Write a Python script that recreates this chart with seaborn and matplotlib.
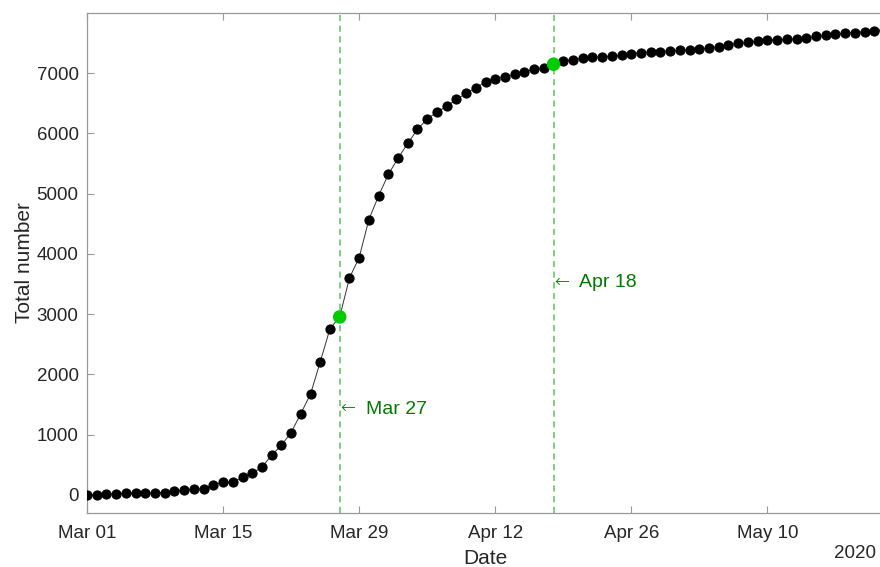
import numpy as np
import pandas as pd
import seaborn as sns
import matplotlib.pyplot as plt
import matplotlib.dates as mdates

# daily cumulative totals, Mar 01 .. May 22 2020
start_date = "2020-03-01"
totals = [0, 0, 10, 20, 25, 25, 30, 35, 40, 60,
          80, 95, 105, 165, 210, 210, 295, 360, 460, 660,
          825, 1035, 1350, 1675, 2210, 2760, 2955, 3600, 3940, 4570,
          4965, 5320, 5590, 5835, 6070, 6240, 6355, 6450, 6565, 6665,
          6760, 6855, 6905, 6940, 6985, 7025, 7065, 7080, 7150, 7205,
          7225, 7245, 7265, 7270, 7280, 7300, 7325, 7340, 7355, 7360,
          7370, 7385, 7385, 7405, 7420, 7440, 7475, 7495, 7515, 7530,
          7545, 7555, 7565, 7575, 7585, 7610, 7630, 7650, 7665, 7675,
          7690, 7700, 7710]
marked_days = ["2020-03-27", "2020-04-18"]
marked_labels = ["Mar 27", "Apr 18"]
marked_label_y = [1420, 3520]
tick_dates = ["2020-03-01", "2020-03-15", "2020-03-29", "2020-04-12", "2020-04-26", "2020-05-10"]
y_ticks = [0, 1000, 2000, 3000, 4000, 5000, 6000, 7000]

df = pd.DataFrame({"Date": pd.date_range(start_date, periods=len(totals), freq="D"),
                   "Total": totals})
marks = df[df["Date"].isin(pd.to_datetime(marked_days))]

sns.set_theme(style="white")
plt.rcParams["font.family"] = ["Liberation Sans", "DejaVu Sans"]

fig = plt.figure(figsize=(8.8, 5.67), dpi=100)
ax = fig.add_axes([87 / 880, 1 - 513 / 567, (884 - 87) / 880, 500 / 567])

for d in marked_days:
    ax.axvline(pd.Timestamp(d), color="#5cc05c", ls=(0, (4, 3)), lw=1.1, zorder=1)

sns.lineplot(data=df, x="Date", y="Total", ax=ax, color="#333333", lw=0.7,
             marker="o", markersize=6.6, markerfacecolor="black",
             markeredgecolor="black", zorder=3)
sns.scatterplot(data=marks, x="Date", y="Total", ax=ax, color="#00cc00",
                s=95, edgecolor="none", zorder=4)

for d, lab, yy in zip(marked_days, marked_labels, marked_label_y):
    x0 = pd.Timestamp(d)
    ax.text(x0 + pd.Timedelta(hours=1), yy + 20, "\u2190", color="#007a00",
            fontsize=13, va="center", ha="left", family="DejaVu Sans",
            fontweight="light")
    ax.text(x0 + pd.Timedelta(hours=64), yy, lab, color="#007a00",
            fontsize=14, va="center", ha="left")

ax.set_xlim(pd.Timestamp(start_date), pd.Timestamp("2020-05-22"))
ax.set_ylim(-300, 8000)
ax.set_xticks(pd.to_datetime(tick_dates))
ax.xaxis.set_major_formatter(mdates.DateFormatter("%b %d"))
ax.set_yticks(y_ticks)

ax.set_xlabel("Date", fontsize=15, color="#262626", labelpad=5)
ax.set_ylabel("Total number", fontsize=15, color="#262626", labelpad=2)
ax.tick_params(direction="in", length=5, width=0.8, color="#999999",
               labelsize=13.5, labelcolor="#262626", top=True, right=False,
               bottom=True, left=True)
ax.tick_params(axis="y", pad=6)
ax.tick_params(axis="x", pad=9)
for s in ax.spines.values():
    s.set_visible(True)
    s.set_color("#999999")
    s.set_linewidth(0.9)

fig.text(876 / 880, 1 - 553 / 567, "2020", fontsize=13.5, color="#262626",
         ha="right", va="center")

fig.savefig("out.png", dpi=100)
